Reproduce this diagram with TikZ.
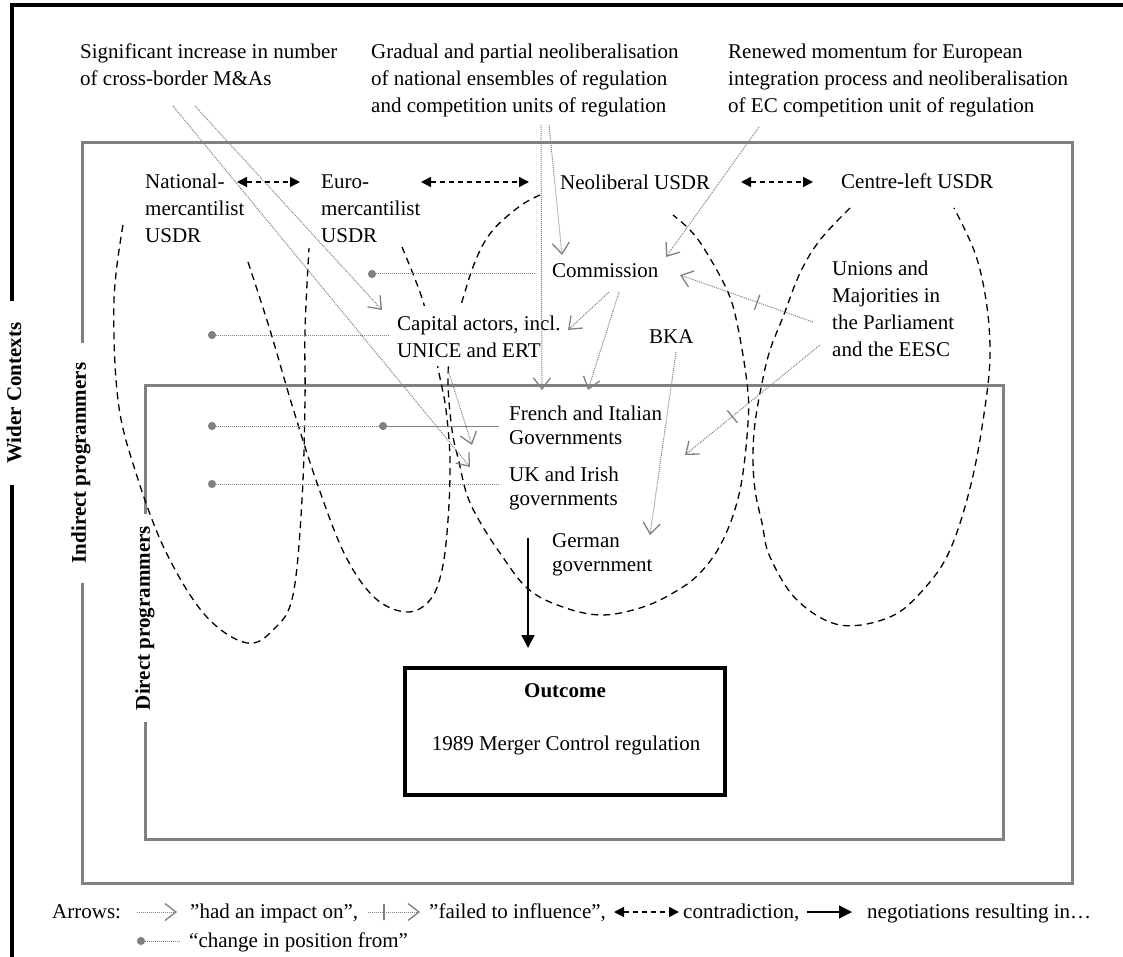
\documentclass[tikz,border=0pt]{standalone}
\usepackage{fontspec}
\setmainfont{Liberation Serif}
\usetikzlibrary{positioning,arrows.meta}

\begin{document}
\begin{tikzpicture}[x=1pt, y=-1pt,
      every node/.style={font=\fontsize{21}{27}\selectfont, align=left, inner sep=1pt},
      lbl/.style={anchor=base west, fill=white},
      gov/.style={lbl, font=\fontsize{21}{24}\selectfont},
      sidelabel/.style={rotate=90, fill=white, inner ysep=0pt,
                        font=\bfseries\fontsize{21}{27}\selectfont},
      ctxline/.style={line width=4pt},
      prog/.style={draw=gray, line width=3pt},
      usdr/.style={dash pattern=on 7pt off 5pt, line width=1.3pt},
      impact/.style={gray, dash pattern=on 1pt off 1pt, line width=1pt,
                     -{Straight Barb[length=11pt, width=17pt, line width=1.3pt]}},
      failtick/.style={draw=gray, solid, line width=1.3pt, sloped, inner sep=0pt,
                       minimum width=0pt, minimum height=16pt},
      moved/.style={gray, dash pattern=on 1pt off 1pt, line width=1pt,
                    {Circle[length=8pt]}-},
      contra/.style={{Triangle[length=10pt, width=10pt]}-{Triangle[length=10pt, width=10pt]},
                     dash pattern=on 5pt off 4pt, line width=1.5pt},
      nego/.style={-{Triangle[length=13pt, width=13pt]}, line width=1.5pt},
  ]
    \useasboundingbox (0,0) rectangle (1123,957);

    % Frames: wider contexts, indirect and direct programmers
    \draw[ctxline] (12,957) -- (12,5) -- (1123,5);
    \node[sidelabel, inner xsep=21pt] (wider) at (14,393) {Wider Contexts};
    \draw[prog] (82,143) rectangle (1072,883);
    \node[sidelabel, inner xsep=20pt] (indirect) at (81,463) {Indirect programmers};
    \draw[prog] (145,385) rectangle (1003,839);
    \node[sidelabel, inner xsep=12pt] (direct) at (145,618) {Direct programmers};

    % USDR ovals
    \draw[usdr] plot[smooth, tension=0.6] coordinates {(123,225) (114,300) (118,400)
      (135,470) (165,550) (205,615) (247,643) (275,628) (293,595) (302,500)
      (305,400) (305,330) (309,248)};
    \draw[usdr] plot[smooth, tension=0.6] coordinates {(248,262) (270,330) (292,405)
      (317,483) (345,555) (375,598) (407,612) (430,600) (442,570) (448,520)
      (450,460) (446,410) (440,378) (432,340) (422,298) (402,247)};
    \draw[usdr] plot[smooth, tension=0.6] coordinates {(540,195) (520,206) (493,230)
      (477,257) (464,295) (452,340) (448,380) (452,430) (459,462) (467,495)
      (480,522) (500,553) (527,588) (560,606) (600,615) (640,608) (673,593)
      (700,573) (723,540) (740,490) (748,423) (747,383) (737,323) (727,290)
      (705,250) (690,230) (673,215)};
    \draw[usdr] plot[smooth, tension=0.6] coordinates {(850,208) (820,240) (800,273)
      (783,317) (770,350) (762,383) (755,423) (753,457) (755,490) (762,523)
      (770,557) (797,600) (840,625) (890,617) (923,590) (950,550) (972,480)
      (986,400) (990,350) (986,300) (975,253) (954,208)};

    % Wider contexts (placed by the baseline of their last line)
    \node[lbl] (sig) at (79,86) {Significant increase in number\\of cross-border M\&As};
    \node[lbl] (grad) at (370,113) {Gradual and partial neoliberalisation\\of national ensembles of regulation\\and competition units of regulation};
    \node[lbl] (renew) at (727,113) {Renewed momentum for European\\integration process and neoliberalisation\\of EC competition unit of regulation};

    % USDRs
    \node[lbl] (nat) at (144,243) {National-\\mercantilist\\USDR};
    \node[lbl] (euro) at (320,243) {Euro-\\mercantilist\\USDR};
    \node[lbl] (neo) at (559,190) {Neoliberal USDR};
    \node[lbl] (cl) at (840,189) {Centre-left USDR};

    % Indirect programmers
    \node[lbl] (comm) at (551,278) {Commission};
    \node[lbl, inner ysep=9pt] (cap) at (396,357) {Capital actors, incl.\\UNICE and ERT};
    \node[lbl] (bka) at (648,343) {BKA};
    \node[lbl] (unions) at (831,356) {Unions and\\Majorities in\\the Parliament\\and the EESC};

    % Direct programmers
    \node[gov] (french) at (508,444) {French and Italian\\Governments};
    \node[gov] (uk) at (508,505) {UK and Irish\\governments};
    \node[gov] (german) at (551,571) {German\\government};

    % Outcome
    \node[draw, line width=4pt, minimum width=320pt, minimum height=127pt]
      (outcome) at (565,731.5) {};
    \node[anchor=base, font=\bfseries\fontsize{21}{27}\selectfont]
      (outtitle) at (565,697) {Outcome};
    \node[anchor=base] (outtext) at (566,750) {1989 Merger Control regulation};

    % Connector ends
    \coordinate (sigA) at (173,106);   \coordinate (ukIn) at (470,467);
    \coordinate (sigB) at (195,106);   \coordinate (capIn) at (382,310);
    \coordinate (gradA) at (541,125);  \coordinate (frenchIn) at (542,390);
    \coordinate (gradB) at (549,125);  \coordinate (commIn) at (562,255);
    \coordinate (renewOut) at (759,127); \coordinate (commInR) at (666,257);
    \coordinate (commOutA) at (609,292); \coordinate (capInR) at (568,330);
    \coordinate (commOutB) at (619,292); \coordinate (frenchInB) at (588,390);
    \coordinate (capOut) at (448,370);   \coordinate (frenchInC) at (472,445);
    \coordinate (bkaOut) at (676,352);   \coordinate (germanIn) at (650,535);
    \coordinate (unionsOutA) at (813,322); \coordinate (commInU) at (680,275);
    \coordinate (unionsOutB) at (820,345); \coordinate (govInU) at (685,455);
    \coordinate (dotComm) at (368,274);
    \coordinate (dotCap) at (208,335);
    \coordinate (dotFrA) at (208,426);
    \coordinate (dotFrB) at (379,426);
    \coordinate (dotUk) at (208,484);
    \coordinate (natR) at (237,182);  \coordinate (euroL) at (300,182);
    \coordinate (euroR) at (421,182); \coordinate (neoL) at (529,182);
    \coordinate (neoR) at (741,182);  \coordinate (clL) at (813,182);
    \coordinate (negStart) at (528,538);

    % had an impact on
    \draw[impact] (sigA) -- (ukIn);
    \draw[impact] (sigB) -- (capIn);
    \draw[impact] (gradA) -- (frenchIn);
    \draw[impact] (gradB) -- (commIn);
    \draw[impact] (renewOut) -- (commInR);
    \draw[impact] (commOutA) -- (capInR);
    \draw[impact] (commOutB) -- (frenchInB);
    \draw[impact] (capOut) -- (frenchInC);
    \draw[impact] (bkaOut) -- (germanIn);

    % failed to influence
    \draw[impact] (unionsOutA) -- node[failtick, pos=0.42] {} (commInU);
    \draw[impact] (unionsOutB) -- node[failtick, pos=0.65] {} (govInU);

    % change in position from
    \draw[moved, shorten >=17pt] (dotComm) -- (dotComm -| comm.west);
    \draw[moved, shorten >=8pt] (dotCap) -- (dotCap -| cap.west);
    \draw[moved, shorten >=10pt] (dotFrA) -- (dotFrA -| french.west);
    \draw[moved, shorten >=10pt] (dotFrB) -- (dotFrB -| french.west);
    \draw[moved, shorten >=10pt] (dotUk) -- (dotUk -| uk.west);

    % contradictions
    \draw[contra] (natR) -- (euroL);
    \draw[contra] (euroR) -- (neoL);
    \draw[contra] (neoR) -- (clL);

    % negotiations
    \draw[nego, shorten >=18pt] (negStart) -- (negStart |- outcome.north);

    % Legend
    \node[anchor=base west] (arrows) at (51,918) {Arrows:};
    \coordinate (lgImpA) at (137,912);  \coordinate (lgImpB) at (177,912);
    \coordinate (lgFailA) at (368,912); \coordinate (lgFailB) at (420,912);
    \coordinate (lgConA) at (614,912);  \coordinate (lgConB) at (679,912);
    \coordinate (lgNegA) at (807,912);  \coordinate (lgNegB) at (852,912);
    \coordinate (lgMovA) at (137,941);  \coordinate (lgMovB) at (180,941);
    \draw[impact] (lgImpA) -- (lgImpB);
    \node[anchor=base west] (lgImpact) at (189,918) {"had an impact on”,};
    \draw[impact] (lgFailA) -- node[failtick, pos=0.31] {} (lgFailB);
    \node[anchor=base west] (lgFailed) at (428,918) {"failed to influence”,};
    \draw[contra] (lgConA) -- (lgConB);
    \node[anchor=base west] (lgContra) at (682,918) {contradiction,};
    \draw[nego] (lgNegA) -- (lgNegB);
    \node[anchor=base west] (lgNego) at (866,918) {negotiations resulting in…};
    \draw[moved] (lgMovA) -- (lgMovB);
    \node[anchor=base west] (lgMoved) at (188,947) {“change in position from”};
  \end{tikzpicture}
\end{document}
